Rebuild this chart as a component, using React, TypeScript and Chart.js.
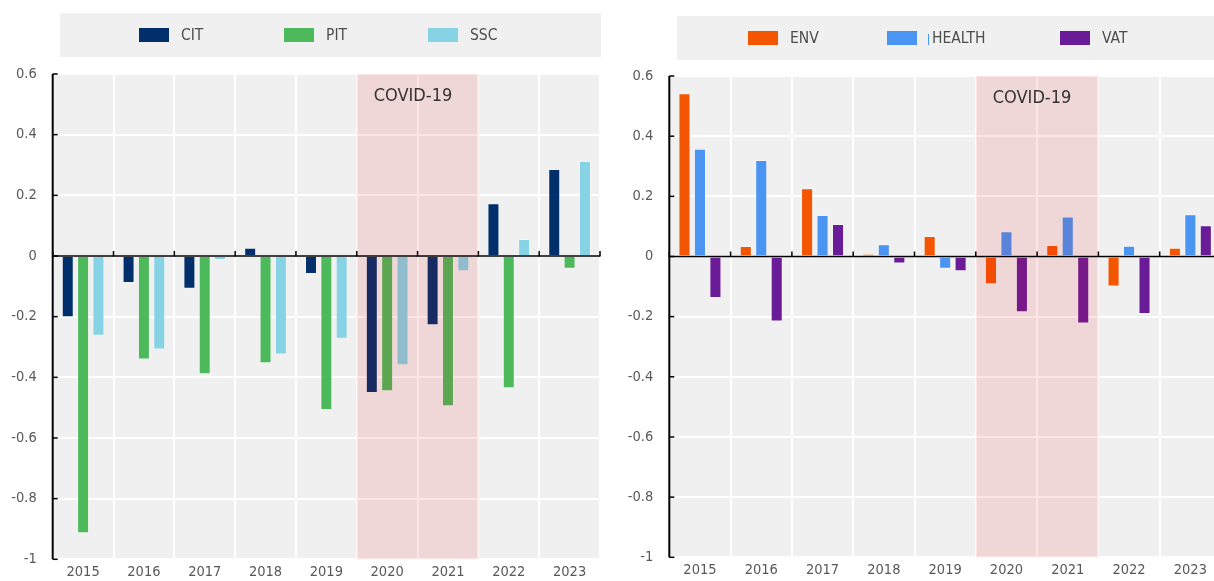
import React, { useEffect, useRef } from "react";
import { Chart, registerables } from "chart.js";

Chart.register(...registerables);

// ---------- data ----------
const years = ["2015", "2016", "2017", "2018", "2019", "2020", "2021", "2022", "2023"];

const citValues = [-0.202, -0.089, -0.108, 0.027, -0.059, -0.452, -0.228, 0.174, 0.287];
const pitValues = [-0.914, -0.341, -0.39, -0.354, -0.508, -0.446, -0.495, -0.436, -0.042];
const sscValues = [-0.263, -0.308, -0.013, -0.325, -0.273, -0.36, -0.05, 0.056, 0.313];

const envValues = [0.543, 0.035, 0.227, 0.009, 0.068, -0.092, 0.038, -0.1, 0.029];
const healthValues = [0.358, 0.321, 0.138, 0.041, -0.041, 0.084, 0.133, 0.036, 0.14];
const vatValues = [-0.138, -0.216, 0.108, -0.023, -0.049, -0.185, -0.223, -0.191, 0.104];

const yTickValues = [0.6, 0.4, 0.2, 0, -0.2, -0.4, -0.6, -0.8, -1];

const covidStart = "2020";
const covidEnd = "2021";
const covidLabel = "COVID-19";

const leftSeriesNames = ["CIT", "PIT", "SSC"];
const rightSeriesNames = ["ENV", "HEALTH", "VAT"];

// ---------- styles ----------
const FONT = "'Liberation Sans Narrow', 'Arial Narrow', 'DejaVu Sans Condensed', 'Roboto Condensed', sans-serif";
const leftColors = ["#002f6c", "#4cb95a", "#86d3e5"];
const rightColors = ["#f45500", "#4a94f2", "#6a1c98"];
const PLOT_BG = "#f0f0f0";
const BAND = "rgba(240,0,10,0.1)";

function fmt(v: number) {
  const r = Math.round(v * 10) / 10;
  return String(r === 0 ? 0 : r);
}

const decorPlugin = {
  id: "decor",
  beforeDraw(chart: any, _args: any, opts: any) {
    const { ctx, chartArea: a } = chart;
    ctx.save();
    ctx.fillStyle = PLOT_BG;
    const lb = opts.legendBox;
    ctx.fillRect(lb.x, lb.y, lb.w, lb.h);
    ctx.fillRect(a.left, a.top, a.right - a.left, a.bottom - a.top);
    ctx.restore();
  },
  afterDatasetsDraw(chart: any, _args: any, opts: any) {
    const { ctx, chartArea: a } = chart;
    const xs = chart.scales.x;
    const ys = chart.scales.y;
    const labels: string[] = chart.data.labels;
    const i0 = labels.indexOf(opts.bandStart);
    const i1 = labels.indexOf(opts.bandEnd);
    const half = (xs.getPixelForValue(1) - xs.getPixelForValue(0)) / 2;
    const bl = xs.getPixelForValue(i0) - half;
    const br = xs.getPixelForValue(i1) + half;
    ctx.save();
    ctx.fillStyle = BAND;
    ctx.fillRect(bl, a.top, br - bl, a.bottom - a.top);

    ctx.fillStyle = "#333333";
    ctx.font = `18px ${FONT}`;
    ctx.textAlign = "left";
    ctx.textBaseline = "middle";
    ctx.fillText(opts.bandLabel, bl + 17, a.top + 22);

    const zy = ys.getPixelForValue(0);
    ctx.strokeStyle = "#000000";
    ctx.lineWidth = 1.5;
    ctx.beginPath();
    ctx.moveTo(a.left, zy);
    ctx.lineTo(a.right, zy);
    ctx.stroke();
    for (let i = 0; i <= labels.length; i++) {
      const px = xs.getPixelForValue(0) - half + i * 2 * half;
      ctx.beginPath();
      ctx.moveTo(px, zy - 5);
      ctx.lineTo(px, zy + 0.5);
      ctx.stroke();
    }
    ctx.lineWidth = 2;
    ctx.beginPath();
    ctx.moveTo(a.left, a.top);
    ctx.lineTo(a.left, a.bottom);
    ctx.stroke();
    ctx.lineWidth = 1.5;
    for (const v of yTickValues) {
      const py = ys.getPixelForValue(v);
      ctx.beginPath();
      ctx.moveTo(a.left, py);
      ctx.lineTo(a.left + 5, py);
      ctx.stroke();
    }
    ctx.restore();
  },
  afterDraw(chart: any, _args: any, opts: any) {
    const { ctx } = chart;
    ctx.save();
    ctx.font = `15.5px ${FONT}`;
    ctx.textBaseline = "middle";
    ctx.textAlign = "left";
    chart.data.datasets.forEach((ds: any, i: number) => {
      const sx = opts.legendItemsX[i];
      ctx.fillStyle = ds.backgroundColor;
      ctx.fillRect(sx, opts.swatchY, 30, 14);
      let tx = sx + 42;
      if (opts.markItem === i) {
        ctx.fillRect(sx + 41, opts.swatchY + 3, 1, 11);
        tx = sx + 45;
      }
      ctx.fillStyle = "#4d4d4d";
      ctx.fillText(ds.label, tx, opts.swatchY + 8);
    });
    ctx.restore();
  },
};

function makeConfig(
  names: string[],
  values: number[][],
  colors: string[],
  axisWidth: number,
  padRight: number,
  padTop: number,
  decor: any
): any {
  return {
    type: "bar",
    data: {
      labels: years,
      datasets: names.map((n, i) => ({
        label: n,
        data: values[i],
        backgroundColor: colors[i],
        borderColor: "rgba(255,255,255,0.3)",
        borderWidth: 1,
        categoryPercentage: 0.757,
        barPercentage: 0.78,
      })),
    },
    plugins: [decorPlugin],
    options: {
      responsive: false,
      animation: false,
      events: [],
      layout: { padding: { left: 0, right: padRight, top: padTop, bottom: 0 } },
      plugins: {
        legend: { display: false },
        tooltip: { enabled: false },
        decor,
      },
      scales: {
        x: {
          grid: { color: "#ffffff", lineWidth: 2, drawTicks: false, tickLength: 0, offset: true },
          border: { display: false },
          ticks: {
            color: "#595959",
            font: { family: FONT, size: 14.5 },
            padding: 4,
            maxRotation: 0,
            autoSkip: false,
          },
          afterFit: (s: any) => {
            s.height = 22;
          },
        },
        y: {
          min: -1,
          max: 0.6,
          grid: { color: "#ffffff", lineWidth: 2, drawTicks: false, tickLength: 0 },
          border: { display: false },
          afterBuildTicks: (s: any) => {
            s.ticks = yTickValues.map((v) => ({ value: v }));
          },
          ticks: {
            color: "#595959",
            font: { family: FONT, size: 14.5 },
            padding: 16,
            callback: (v: any) => fmt(Number(v)),
          },
          afterFit: (s: any) => {
            s.width = axisWidth;
          },
        },
      },
    },
  };
}

function BarPanel(props: { config: any; left: number; width: number; height: number }) {
  const ref = useRef<HTMLCanvasElement | null>(null);
  useEffect(() => {
    if (!ref.current) return;
    const chart = new Chart(ref.current, props.config);
    return () => chart.destroy();
  }, []);
  return (
    <canvas
      ref={ref}
      width={props.width}
      height={props.height}
      style={{ position: "absolute", left: props.left, top: 0, width: props.width, height: props.height }}
    />
  );
}

export default function App() {
  const leftConfig = makeConfig(
    leftSeriesNames,
    [citValues, pitValues, sscValues],
    leftColors,
    52.7,
    10,
    74,
    {
      legendBox: { x: 60, y: 13, w: 541, h: 44 },
      legendItemsX: [139, 284, 428],
      swatchY: 28,
      markItem: -1,
      bandStart: covidStart,
      bandEnd: covidEnd,
      bandLabel: covidLabel,
    }
  );
  const rightConfig = makeConfig(
    rightSeriesNames,
    [envValues, healthValues, vatValues],
    rightColors,
    59.3,
    9,
    76,
    {
      legendBox: { x: 67, y: 16, w: 560, h: 44 },
      legendItemsX: [138, 277, 450],
      swatchY: 31,
      markItem: 1,
      bandStart: covidStart,
      bandEnd: covidEnd,
      bandLabel: covidLabel,
    }
  );
  return (
    <div
      style={{
        position: "fixed",
        left: 0,
        top: 0,
        width: 1214,
        height: 581,
        overflow: "hidden",
        background: "#ffffff",
      }}
    >
      <BarPanel config={leftConfig} left={0} width={610} height={584} />
      <BarPanel config={rightConfig} left={610} width={620} height={582} />
    </div>
  );
}
